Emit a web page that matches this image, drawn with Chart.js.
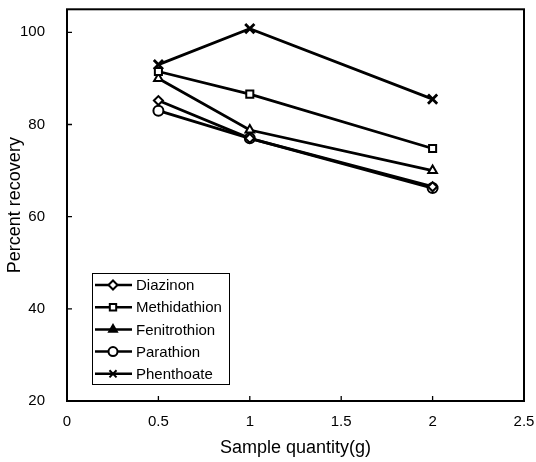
<!DOCTYPE html>
<html>
<head>
<meta charset="utf-8">
<script src="https://cdn.jsdelivr.net/npm/chart.js@4"></script>
<style>
html,body{margin:0;padding:0;background:#fff;}
#wrap{position:relative;width:536px;height:462px;}
</style>
</head>
<body>
<div id="wrap"><canvas id="c" width="536" height="462"></canvas></div>
<script>
const sampleQuantity = [0.5, 1, 2];
const diazinon     = [85.2, 77.0, 66.5];
const methidathion = [91.5, 86.6, 74.8];
const fenitrothion = [90.0, 78.8, 70.0];
const parathion    = [83.0, 77.0, 66.2];
const phenthoate   = [93.0, 100.8, 85.5];
const seriesNames  = ['Diazinon', 'Methidathion', 'Fenitrothion', 'Parathion', 'Phenthoate'];
const seriesValues = [diazinon, methidathion, fenitrothion, parathion, phenthoate];
const markerStyles = ['rectRot', 'rect', 'triangle', 'circle', 'crossRot'];
const yTicks = [20, 40, 60, 80, 100];
const xTicks = [0, 0.5, 1, 1.5, 2, 2.5];

const FONT = "'Liberation Sans', Arial, sans-serif";

const datasets = seriesNames.map((name, i) => ({
  label: name,
  data: sampleQuantity.map((x, j) => ({x: x, y: seriesValues[i][j]})),
  borderColor: '#000',
  backgroundColor: '#fff',
  borderWidth: 2.8,
  pointStyle: markerStyles[i],
  pointRadius: markerStyles[i] === 'rectRot' ? 4.5 : (markerStyles[i] === 'crossRot' ? 6.5 : 5),
  pointBorderWidth: markerStyles[i] === 'crossRot' ? 2.8 : 2,
  pointBackgroundColor: '#fff',
  pointBorderColor: '#000',
  tension: 0
}));

const framePlugin = {
  id: 'frame',
  afterDatasetsDraw(chart) {
    const ctx = chart.ctx, a = chart.chartArea;
    const xs = chart.scales.x, ys = chart.scales.y;
    ctx.save();
    ctx.strokeStyle = '#000';
    ctx.lineWidth = 2;
    ctx.strokeRect(a.left, a.top, a.right - a.left, a.bottom - a.top);
    ctx.lineWidth = 1.3;
    ctx.beginPath();
    yTicks.forEach(v => {
      const p = ys.getPixelForValue(v);
      ctx.moveTo(a.left, p); ctx.lineTo(a.left + 5, p);
    });
    xTicks.forEach(v => {
      const p = xs.getPixelForValue(v);
      ctx.moveTo(p, a.bottom); ctx.lineTo(p, a.bottom - 5);
    });
    ctx.stroke();

    // legend box
    const bx = 92, by = 273, bw = 137, bh = 111, rowH = 22.2;
    ctx.lineWidth = 1;
    ctx.strokeRect(bx + 0.5, by + 0.5, bw, bh);
    ctx.font = '15px ' + FONT;
    ctx.textBaseline = 'middle';
    chart.data.datasets.forEach((ds, i) => {
      const cy = by + 12 + i * rowH;
      ctx.lineWidth = 2.5;
      ctx.strokeStyle = '#000';
      ctx.beginPath();
      ctx.moveTo(bx + 3, cy); ctx.lineTo(bx + 40, cy);
      ctx.stroke();
      ctx.lineWidth = 2;
      ctx.fillStyle = ds.pointStyle === 'triangle' ? '#000' : '#fff';
      Chart.helpers.drawPoint(ctx, {pointStyle: ds.pointStyle, radius: ds.pointStyle === 'crossRot' ? 5 : 4.5, borderWidth: 2}, bx + 21, cy);
      ctx.fillStyle = '#000';
      ctx.fillText(ds.label, bx + 44, cy + 1);
    });
    ctx.restore();
  }
};

function zeroPad(s) { s.paddingTop = 0; s.paddingBottom = 0; s.paddingLeft = 0; s.paddingRight = 0; }

new Chart(document.getElementById('c'), {
  type: 'line',
  data: {datasets: datasets},
  options: {
    responsive: false,
    animation: false,
    layout: {padding: {top: 7, right: 12, left: 0, bottom: 0}},
    plugins: {legend: {display: false}, tooltip: {enabled: false}},
    scales: {
      x: {
        type: 'linear',
        min: 0, max: 2.5,
        afterFit(s) { s.height = 61; zeroPad(s); },
        afterBuildTicks(s) { s.ticks = xTicks.map(v => ({value: v})); },
        grid: {display: false, drawTicks: false},
        border: {display: false},
        ticks: {
          color: '#000', padding: 12,
          font: {family: FONT, size: 15},
          callback: v => String(v)
        },
        title: {display: true, text: 'Sample quantity(g)', color: '#000',
                font: {family: FONT, size: 18}, padding: {top: 0, bottom: 3}}
      },
      y: {
        type: 'linear',
        min: 20, max: 105,
        afterFit(s) { s.width = 67; zeroPad(s); },
        afterBuildTicks(s) { s.ticks = yTicks.map(v => ({value: v})); },
        grid: {display: false, drawTicks: false},
        border: {display: false},
        ticks: {color: '#000', padding: 22, font: {family: FONT, size: 15}},
        title: {display: true, text: 'Percent recovery', color: '#000',
                font: {family: FONT, size: 18}, padding: {top: 4, bottom: 0}}
      }
    }
  },
  plugins: [framePlugin]
});
</script>
</body>
</html>
